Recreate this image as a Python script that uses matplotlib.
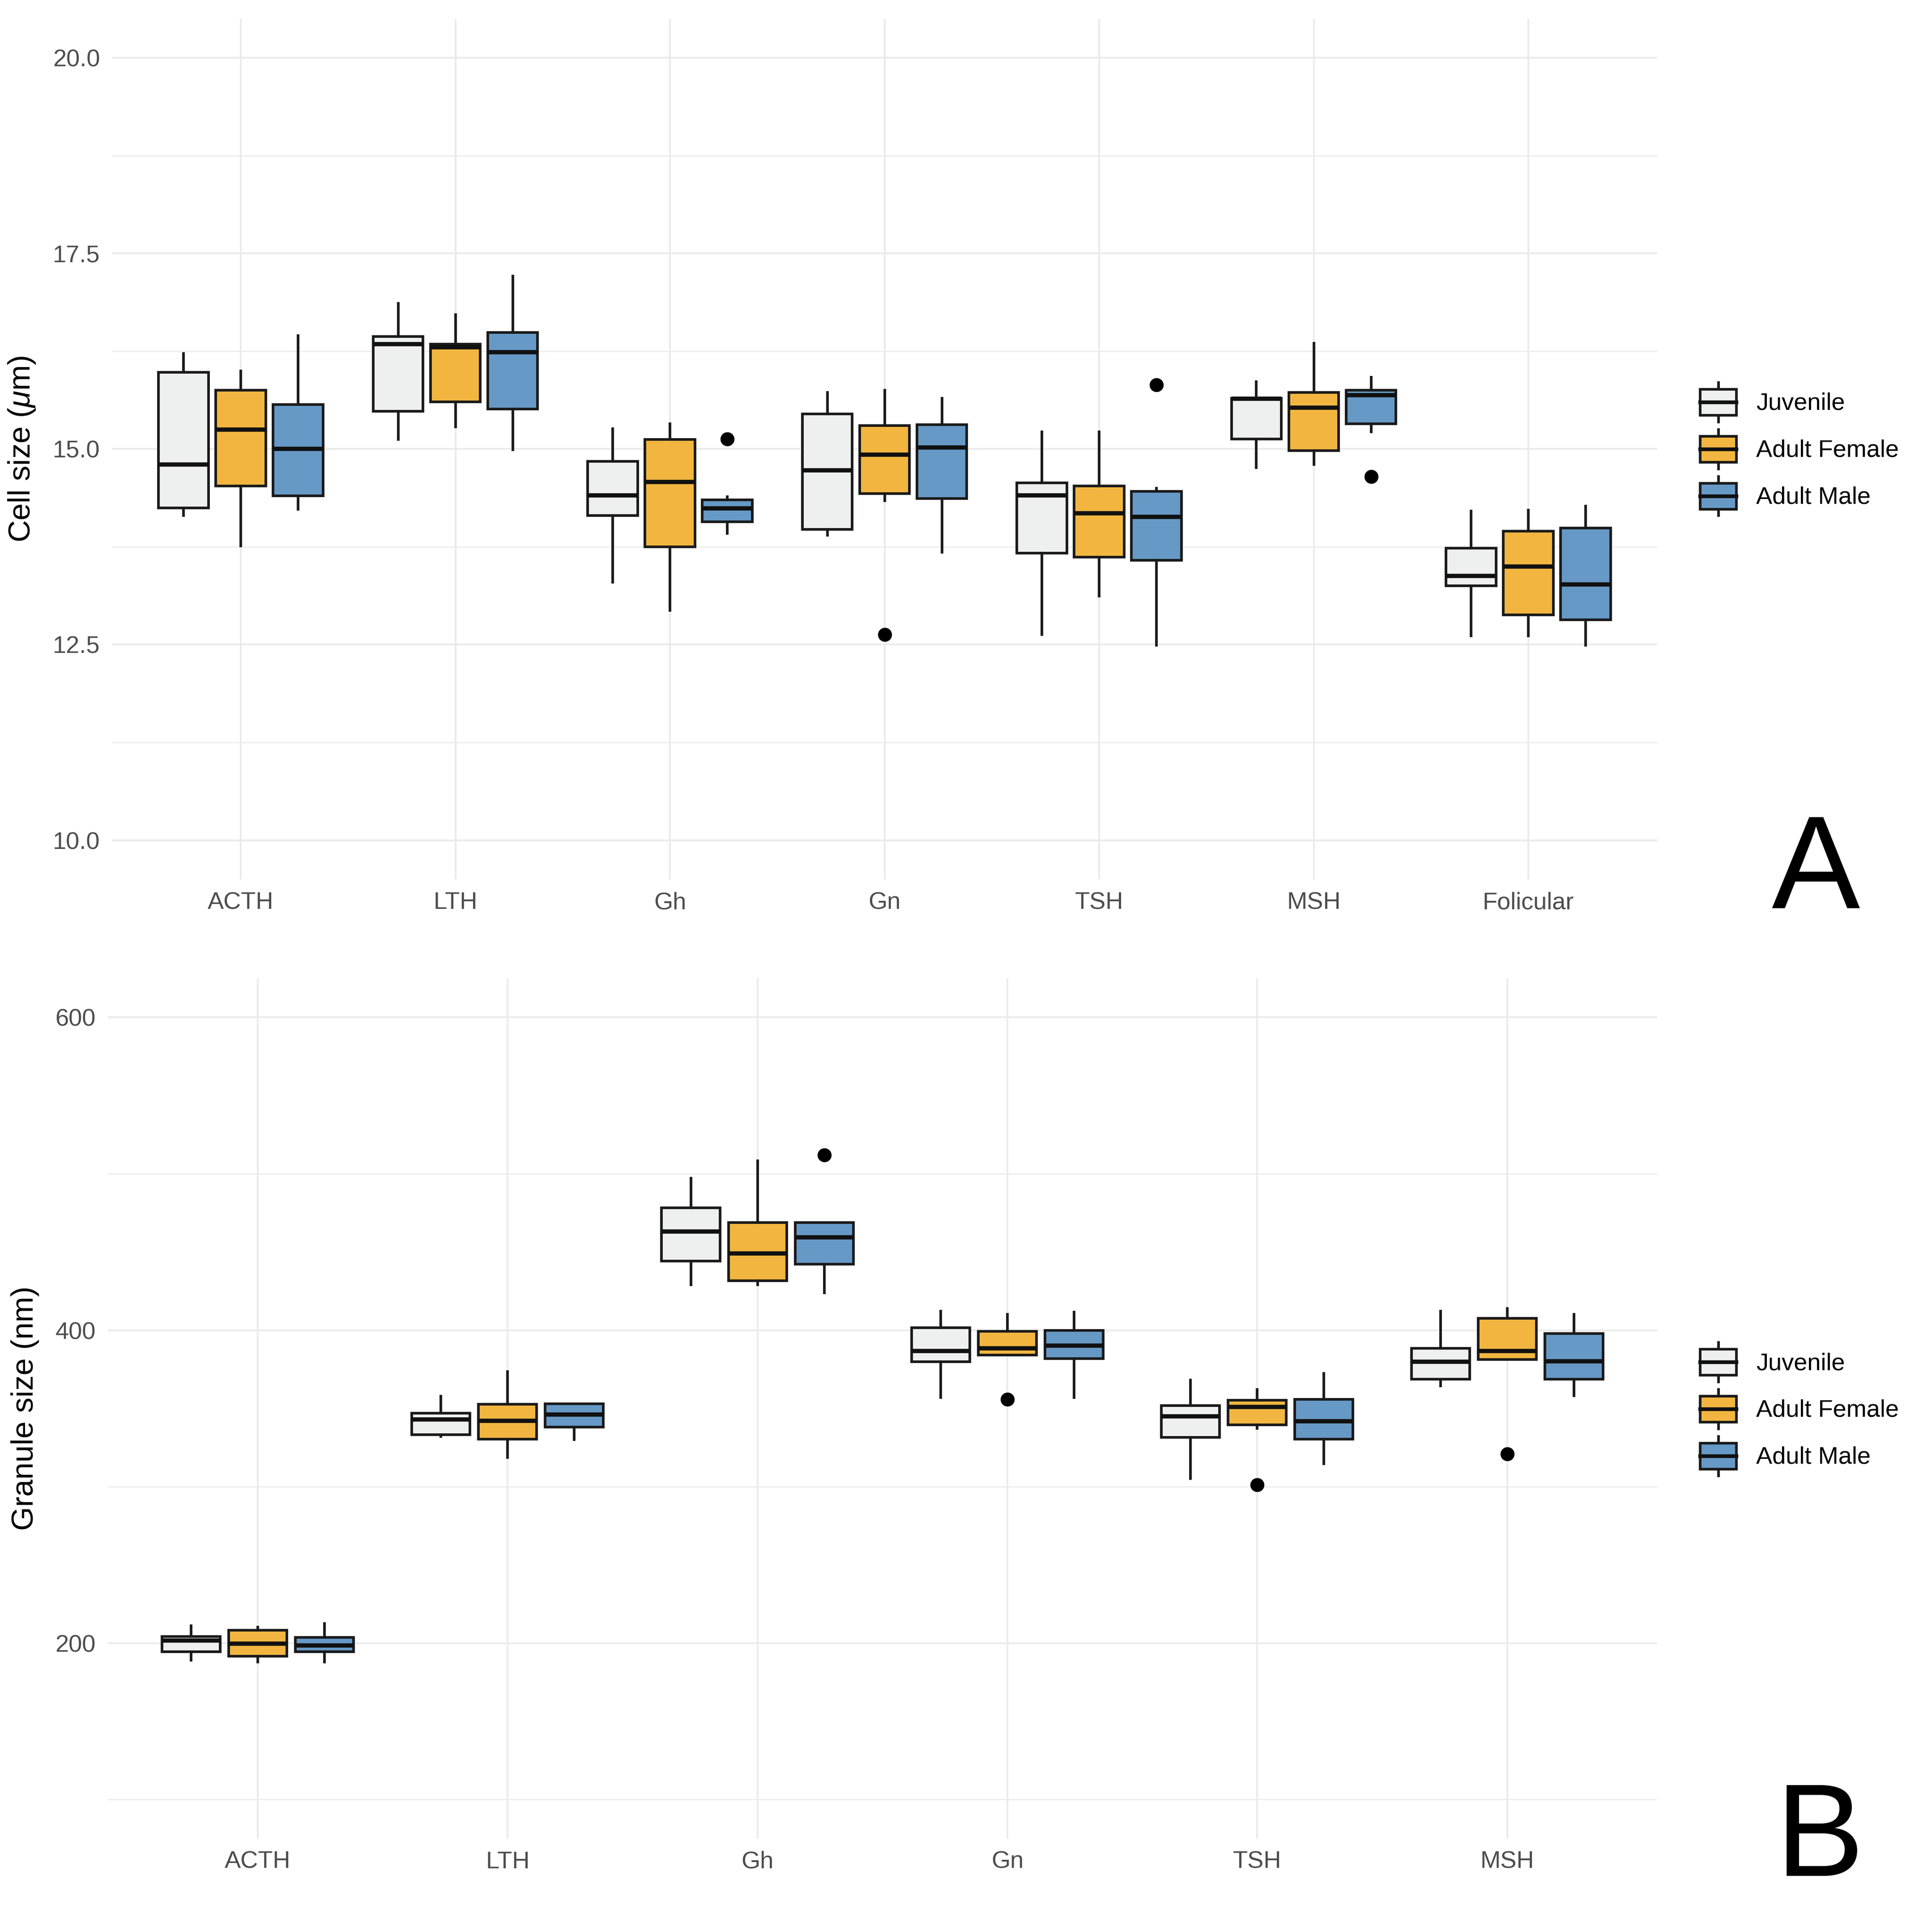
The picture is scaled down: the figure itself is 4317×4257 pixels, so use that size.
import matplotlib
matplotlib.use("Agg")
import matplotlib.pyplot as plt
from matplotlib.legend_handler import HandlerBase
from matplotlib.lines import Line2D
from matplotlib.patches import Patch, Rectangle

plt.rcParams["font.family"] = ["Liberation Sans", "DejaVu Sans"]
plt.rcParams["mathtext.fontset"] = "custom"
plt.rcParams["mathtext.it"] = "Liberation Sans:italic"
plt.rcParams["mathtext.rm"] = "Liberation Sans"

groups = ["Juvenile", "Adult Female", "Adult Male"]
group_colors = ["#EEF0EF", "#F2B640", "#6699C6"]

# Panel A: cell size (um); each row = whisker low, Q1, median, Q3, whisker high
cell_types = ["ACTH", "LTH", "Gh", "Gn", "TSH", "MSH", "Folicular"]
cell_juvenile = [
    [14.15, 14.25, 14.80, 15.98, 16.22],
    [15.12, 15.48, 16.34, 16.44, 16.86],
    [13.30, 14.15, 14.41, 14.84, 15.26],
    [13.90, 13.97, 14.73, 15.45, 15.72],
    [12.63, 13.67, 14.41, 14.57, 15.22],
    [14.76, 15.13, 15.64, 15.65, 15.86],
    [12.61, 13.25, 13.38, 13.73, 14.21],
]
cell_female = [
    [13.76, 14.53, 15.25, 15.75, 16.00],
    [15.28, 15.60, 16.30, 16.34, 16.72],
    [12.94, 13.75, 14.58, 15.12, 15.32],
    [14.34, 14.43, 14.93, 15.30, 15.75],
    [13.12, 13.62, 14.18, 14.53, 15.22],
    [14.80, 14.98, 15.53, 15.72, 16.35],
    [12.61, 12.88, 13.50, 13.95, 14.22],
]
cell_male = [
    [14.23, 14.40, 15.00, 15.57, 16.45],
    [14.99, 15.51, 16.24, 16.49, 17.21],
    [13.92, 14.07, 14.24, 14.35, 14.39],
    [13.68, 14.37, 15.02, 15.31, 15.65],
    [12.49, 13.58, 14.13, 14.46, 14.50],
    [15.22, 15.32, 15.69, 15.75, 15.92],
    [12.49, 12.82, 13.27, 13.99, 14.27],
]
cell_out_juvenile = [[], [], [], [], [], [], []]
cell_out_female = [[], [], [], [12.63], [], [], []]
cell_out_male = [[], [], [15.13], [], [15.82], [14.65], []]

# Panel B: granule size (nm)
granule_types = ["ACTH", "LTH", "Gh", "Gn", "TSH", "MSH"]
gran_juvenile = [
    [189.0, 194.5, 201.6, 204.3, 211.0],
    [332.0, 333.2, 343.0, 347.0, 357.7],
    [429.2, 444.3, 463.2, 478.3, 497.2],
    [356.9, 379.8, 386.6, 401.6, 412.3],
    [305.1, 331.6, 345.1, 351.8, 368.0],
    [364.4, 368.8, 379.8, 388.5, 412.3],
]
gran_female = [
    [187.8, 191.7, 199.6, 208.3, 210.3],
    [318.6, 330.4, 342.0, 352.6, 373.5],
    [429.2, 431.6, 449.0, 468.8, 508.3],
    [384.2, 384.2, 388.5, 399.2, 410.3],
    [337.2, 339.5, 351.0, 355.3, 362.1],
    [381.4, 381.4, 386.6, 407.5, 413.8],
]
gran_male = [
    [187.8, 194.5, 198.4, 203.6, 212.6],
    [330.0, 338.0, 346.2, 353.0, 353.0],
    [424.0, 442.3, 459.3, 468.8, 468.8],
    [356.9, 381.8, 390.1, 400.0, 411.5],
    [314.6, 330.4, 341.9, 355.7, 372.3],
    [358.0, 368.8, 380.2, 398.0, 410.3],
]
gran_out_juvenile = [[], [], [], [], [], []]
gran_out_female = [[], [], [], [355.7], [301.2], [320.9]]
gran_out_male = [[], [], [511.9], [], [], []]

EDGE = "#1a1a1a"


class BoxKey(HandlerBase):
    def create_artists(self, legend, orig_handle, xdescent, ydescent,
                       width, height, fontsize, trans):
        fc = orig_handle.get_facecolor()
        x0, y_lo = -xdescent, -ydescent
        bh = height * 0.66
        by = y_lo + (height - bh) / 2
        cx = x0 + width / 2
        top = Line2D([cx, cx], [by + bh, y_lo + height], color=EDGE, lw=1.4, transform=trans)
        bot = Line2D([cx, cx], [y_lo, by], color=EDGE, lw=1.4, transform=trans)
        rect = Rectangle((x0, by), width, bh, facecolor=fc, edgecolor=EDGE, lw=1.4, transform=trans)
        med = Line2D([x0, x0 + width], [by + bh / 2] * 2, color="#111111", lw=2.0, transform=trans)
        return [top, bot, rect, med]


def draw_panel(ax, cats, stats, outliers, ylim, major, minor, tick_fmt, ylabel):
    offsets = [-0.267, 0.0, 0.267]
    for g, (rows, outs, color) in enumerate(zip(stats, outliers, group_colors)):
        bstats = []
        for r, fl in zip(rows, outs):
            bstats.append({"whislo": r[0], "q1": r[1], "med": r[2], "q3": r[3],
                           "whishi": r[4], "fliers": fl})
        pos = [i + 1 + offsets[g] for i in range(len(cats))]
        ax.bxp(bstats, positions=pos, widths=0.233, patch_artist=True, showcaps=False,
               boxprops=dict(facecolor=color, edgecolor=EDGE, linewidth=1.4),
               medianprops=dict(color="#111111", linewidth=2.3, solid_capstyle="butt"),
               whiskerprops=dict(color=EDGE, linewidth=1.4),
               flierprops=dict(marker="o", markerfacecolor="black", markeredgecolor="black",
                               markersize=6.5),
               zorder=3)

    ax.set_xlim(0.4, len(cats) + 0.6)
    ax.set_ylim(*ylim)
    ax.set_xticks(range(1, len(cats) + 1))
    ax.set_xticklabels(cats)
    ax.set_yticks(major)
    ax.set_yticklabels([tick_fmt.format(v) for v in major])
    ax.set_yticks(minor, minor=True)
    ax.grid(True, which="major", color="#EBEBEB", linewidth=1.0, zorder=0)
    ax.grid(True, which="minor", axis="y", color="#EBEBEB", linewidth=0.6, zorder=0)
    ax.set_axisbelow(True)
    for s in ax.spines.values():
        s.set_visible(False)
    ax.tick_params(which="both", length=0, pad=6.5, labelsize=13, labelcolor="#4D4D4D")
    ax.set_ylabel(ylabel, fontsize=16.5, color="black")


fig = plt.figure(figsize=(4317 / 300, 4257 / 300), dpi=300)

ax_a = fig.add_axes([0.058, 0.5384, 0.7997, 0.4518])
draw_panel(ax_a, cell_types, [cell_juvenile, cell_female, cell_male],
           [cell_out_juvenile, cell_out_female, cell_out_male],
           (9.5, 20.5), [10.0, 12.5, 15.0, 17.5, 20.0], [11.25, 13.75, 16.25, 18.75],
           "{:.1f}", r"Cell size ($\mu$m)")
ax_a.yaxis.set_label_coords(-0.0484, 0.5)

ax_b = fig.add_axes([0.0558, 0.0348, 0.8019, 0.4517])
draw_panel(ax_b, granule_types, [gran_juvenile, gran_female, gran_male],
           [gran_out_juvenile, gran_out_female, gran_out_male],
           (75, 625), [200, 400, 600], [100, 300, 500],
           "{:.0f}", "Granule size (nm)")
ax_b.yaxis.set_label_coords(-0.0442, 0.5)

handles = [Patch(facecolor=c, label=g) for g, c in zip(groups, group_colors)]
for anchor_y in (0.7642, 0.2603):
    fig.legend(handles=handles, handler_map={Patch: BoxKey()}, loc="center left",
               bbox_to_anchor=(0.880, anchor_y), frameon=False, fontsize=13,
               handlelength=1.5, handleheight=2.11, labelspacing=0.32,
               handletextpad=0.81, borderpad=0, borderaxespad=0)

fig.text(0.917, 0.5236, "A", fontsize=71, ha="left", va="baseline")
fig.text(0.919, 0.001, "B", fontsize=71, ha="left", va="bottom")

fig.savefig("out.png", dpi=300, facecolor="white")
